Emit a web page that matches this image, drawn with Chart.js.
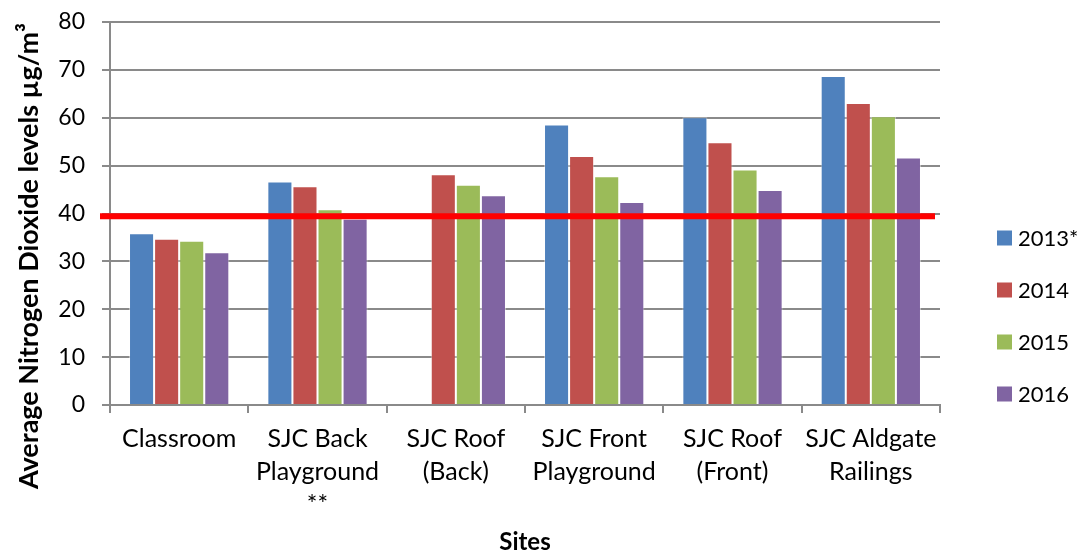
<!DOCTYPE html>
<html>
<head>
<meta charset="utf-8">
<title>Average Nitrogen Dioxide levels by site</title>
<script src="https://cdn.jsdelivr.net/npm/chart.js@4.4.1/dist/chart.umd.min.js"></script>
<style>
  html, body { margin: 0; padding: 0; background: #ffffff; }
  #wrap { width: 1086px; height: 555px; position: relative; }
</style>
</head>
<body>
<div id="wrap"><canvas id="chart"></canvas></div>
<script>
// Sites (multi-line labels split as on the axis)
const sites = [
  'Classroom',
  ['SJC Back', 'Playground', '**'],
  ['SJC Roof', '(Back)'],
  ['SJC Front', 'Playground'],
  ['SJC Roof', '(Front)'],
  ['SJC Aldgate', 'Railings']
];

// Annual mean NO2 (µg/m³) per site
const years = ['2013*', '2014', '2015', '2016'];
const no2_2013 = [35.9, 46.7, null, 58.6, 60.1, 68.7];
const no2_2014 = [34.7, 45.7, 48.2, 52.0, 54.9, 63.1];
const no2_2015 = [34.3, 40.9, 46.0, 47.8, 49.2, 60.3];
const no2_2016 = [31.9, 38.9, 43.8, 42.4, 44.9, 51.7];

// Annual mean limit value line
const limitValue = 39.4;

// Y axis ticks
const yTicks = [0, 10, 20, 30, 40, 50, 60, 70, 80];

const colors = ['#4F81BD', '#C0504D', '#9BBB59', '#8064A2'];
const seriesValues = [no2_2013, no2_2014, no2_2015, no2_2016];

const FONT = 'Lato, "Liberation Sans", sans-serif';
const GRID = '#8a8a8a';

// Red horizontal limit line across the plot
const limitLine = {
  id: 'limitLine',
  afterDatasetsDraw(chart) {
    const { ctx, chartArea, scales } = chart;
    const py = scales.y.getPixelForValue(limitValue);
    ctx.save();
    ctx.strokeStyle = '#ff0000';
    ctx.lineWidth = 6;
    ctx.beginPath();
    ctx.moveTo(chartArea.left - 10, py);
    ctx.lineTo(chartArea.right - 5, py);
    ctx.stroke();
    ctx.restore();
  }
};

// Rotated y-axis title, centred a little below the plot middle
const yTitle = {
  id: 'yTitle',
  afterDraw(chart) {
    const { ctx, chartArea } = chart;
    ctx.save();
    ctx.translate(29, chartArea.top + 234);
    ctx.rotate(-Math.PI / 2);
    ctx.font = 'bold 27px ' + FONT;
    ctx.fillStyle = '#000000';
    ctx.textAlign = 'center';
    ctx.textBaseline = 'middle';
    ctx.fillText('Average Nitrogen Dioxide levels µg/m³', 0, 0);
    ctx.restore();
  }
};

// Legend stacked on the right, aligned towards the bottom of the plot
const sideLegend = {
  id: 'sideLegend',
  afterDraw(chart) {
    const { ctx, chartArea } = chart;
    const x0 = chartArea.right + 57;
    ctx.save();
    ctx.font = '22px ' + FONT;
    ctx.textBaseline = 'middle';
    ctx.textAlign = 'left';
    chart.data.datasets.forEach((ds, i) => {
      const cy = chartArea.bottom - 167 + i * 52;
      ctx.fillStyle = ds.backgroundColor;
      ctx.fillRect(x0, cy - 7.5, 15, 15);
      ctx.fillStyle = '#000000';
      ctx.fillText(ds.label, x0 + 21, cy + 1);
    });
    ctx.restore();
  }
};

const datasets = years.map((yr, i) => ({
  label: yr,
  data: seriesValues[i],
  backgroundColor: colors[i],
  borderColor: 'rgba(255,255,255,0.45)',
  borderWidth: 1,
  categoryPercentage: 0.725,
  barPercentage: 1.0
}));

new Chart(document.getElementById('chart'), {
  type: 'bar',
  data: { labels: sites, datasets },
  plugins: [limitLine, yTitle, sideLegend],
  options: {
    responsive: true,
    maintainAspectRatio: false,
    animation: false,
    layout: { autoPadding: false, padding: { top: 22, right: 146, left: 0, bottom: 0 } },
    plugins: {
      legend: { display: false },
      tooltip: { enabled: false }
    },
    scales: {
      x: {
        afterFit(scale) { scale.height = 150; },
        grid: {
          display: true,
          offset: true,
          drawOnChartArea: false,
          drawTicks: true,
          tickLength: 8,
          color: GRID,
          lineWidth: 2
        },
        border: { display: true, color: GRID, width: 2 },
        ticks: {
          color: '#000000',
          font: { family: FONT, size: 25, lineHeight: 1.32 },
          padding: 9,
          maxRotation: 0,
          autoSkip: false
        },
        title: {
          display: true,
          text: 'Sites',
          color: '#000000',
          font: { family: FONT, size: 24, weight: 'bold', lineHeight: 1.1 },
          padding: { top: 0, bottom: 0 }
        }
      },
      y: {
        min: 0,
        max: 80,
        afterFit(scale) {
          scale.width = 110;
          scale.paddingTop = 22;
          scale.paddingBottom = 0;
        },
        afterBuildTicks(scale) { scale.ticks = yTicks.map(v => ({ value: v })); },
        grid: {
          color: GRID,
          lineWidth: 2,
          drawTicks: true,
          tickLength: 8
        },
        border: { display: true, color: GRID, width: 2 },
        ticks: {
          color: '#000000',
          font: { family: FONT, size: 23 },
          padding: 17
        }
      }
    }
  }
});
</script>
</body>
</html>
